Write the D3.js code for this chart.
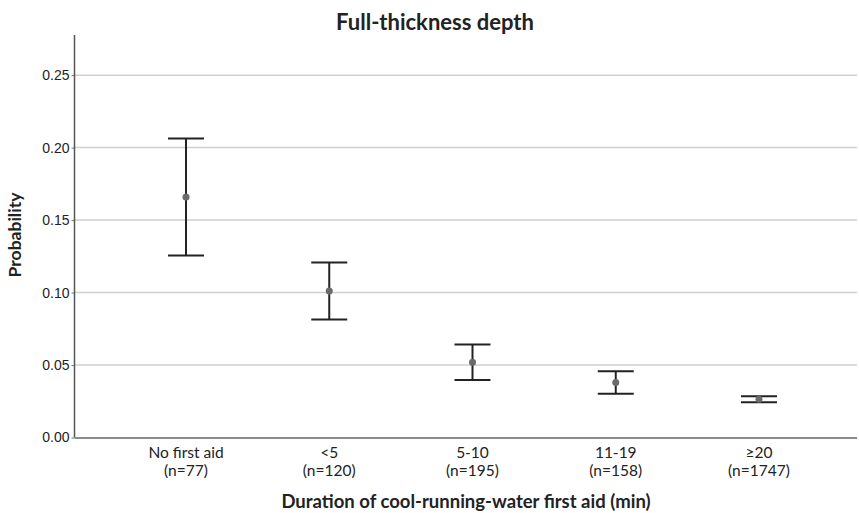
<!DOCTYPE html>
<html>
<head>
<meta charset="utf-8">
<script src="https://cdn.jsdelivr.net/npm/d3@7"></script>
<style>
  body { margin: 0; background: #fff; }
  svg { display: block; font-family: Lato, "Open Sans", sans-serif; }
</style>
</head>
<body>
<svg id="chart" width="859" height="513"></svg>
<script>
const categories = ['No first aid', '<5', '5-10', '11-19', '≥20'];
const counts = ['(n=77)', '(n=120)', '(n=195)', '(n=158)', '(n=1747)'];
const means = [0.166, 0.101, 0.052, 0.038, 0.0264];
const upper = [0.2063, 0.1207, 0.0641, 0.0457, 0.0285];
const lower = [0.1255, 0.0814, 0.0397, 0.0301, 0.0243];
const yTicks = [0, 0.05, 0.10, 0.15, 0.20, 0.25];

function drawChart() {
    const svg = d3.select('#chart');
    svg.selectAll('*').remove();

    const left = 74.5, right = 857, bottom = 437.5, top = 35;

    const x = d3.scalePoint()
        .domain(categories)
        .range([186, 759]);

    const y = d3.scaleLinear()
        .domain([0, 0.2777])
        .range([bottom, top]);

    // gridlines
    svg.append('g')
        .selectAll('line')
        .data(yTicks.filter(d => d > 0))
        .join('line')
        .attr('x1', left)
        .attr('x2', right)
        .attr('y1', d => y(d))
        .attr('y2', d => y(d))
        .attr('stroke', '#cfcfcf')
        .attr('stroke-width', 1.5);

    // y axis
    const yAxis = svg.append('g')
        .attr('transform', `translate(${left},0)`)
        .call(d3.axisLeft(y).tickValues(yTicks).tickFormat(d3.format('.2f')).tickSize(3).tickPadding(2));
    yAxis.select('.domain').remove();
    yAxis.selectAll('.tick line').attr('stroke', '#777');
    yAxis.selectAll('.tick text')
        .attr('fill', '#222')
        .style('font-size', '14px');

    svg.append('line')
        .attr('x1', left).attr('x2', left)
        .attr('y1', top).attr('y2', bottom)
        .attr('stroke', '#555')
        .attr('stroke-width', 1.5);

    // x axis line
    svg.append('line')
        .attr('x1', left).attr('x2', right)
        .attr('y1', bottom + 0.5).attr('y2', bottom + 0.5)
        .attr('stroke', '#8a8a8a')
        .attr('stroke-width', 2);

    // category labels
    const labels = svg.append('g');
    labels.selectAll('text.cat')
        .data(categories)
        .join('text')
        .attr('class', 'cat')
        .attr('x', d => x(d))
        .attr('y', 458)
        .attr('text-anchor', 'middle')
        .style('font-size', '15.5px')
        .attr('fill', '#222')
        .text(d => d);
    labels.selectAll('text.n')
        .data(categories)
        .join('text')
        .attr('class', 'n')
        .attr('x', d => x(d))
        .attr('y', 476)
        .attr('text-anchor', 'middle')
        .style('font-size', '15.5px')
        .attr('fill', '#222')
        .text((d, i) => counts[i]);

    // error bars
    const capHalf = 18;
    const bars = svg.append('g')
        .selectAll('g')
        .data(categories)
        .join('g');

    bars.append('line')
        .attr('x1', d => x(d)).attr('x2', d => x(d))
        .attr('y1', (d, i) => y(upper[i]))
        .attr('y2', (d, i) => y(lower[i]))
        .attr('stroke', '#222')
        .attr('stroke-width', 2);
    bars.append('line')
        .attr('x1', d => x(d) - capHalf).attr('x2', d => x(d) + capHalf)
        .attr('y1', (d, i) => y(upper[i]))
        .attr('y2', (d, i) => y(upper[i]))
        .attr('stroke', '#222')
        .attr('stroke-width', 2);
    bars.append('line')
        .attr('x1', d => x(d) - capHalf).attr('x2', d => x(d) + capHalf)
        .attr('y1', (d, i) => y(lower[i]))
        .attr('y2', (d, i) => y(lower[i]))
        .attr('stroke', '#222')
        .attr('stroke-width', 2);
    bars.append('circle')
        .attr('cx', d => x(d))
        .attr('cy', (d, i) => y(means[i]))
        .attr('r', 3.5)
        .attr('fill', '#6a6a6a');

    // titles
    svg.append('text')
        .attr('x', 435)
        .attr('y', 30)
        .attr('text-anchor', 'middle')
        .style('font-size', '22px')
        .style('font-weight', 'bold')
        .attr('fill', '#222')
        .text('Full-thickness depth');

    svg.append('text')
        .attr('x', 466)
        .attr('y', 508)
        .attr('text-anchor', 'middle')
        .style('font-size', '18.5px')
        .style('font-weight', 'bold')
        .attr('fill', '#222')
        .text('Duration of cool-running-water first aid (min)');

    svg.append('text')
        .attr('transform', 'translate(21,235) rotate(-90)')
        .attr('text-anchor', 'middle')
        .style('font-size', '17.5px')
        .style('font-weight', 'bold')
        .attr('fill', '#222')
        .text('Probability');
}

drawChart();
</script>
</body>
</html>
